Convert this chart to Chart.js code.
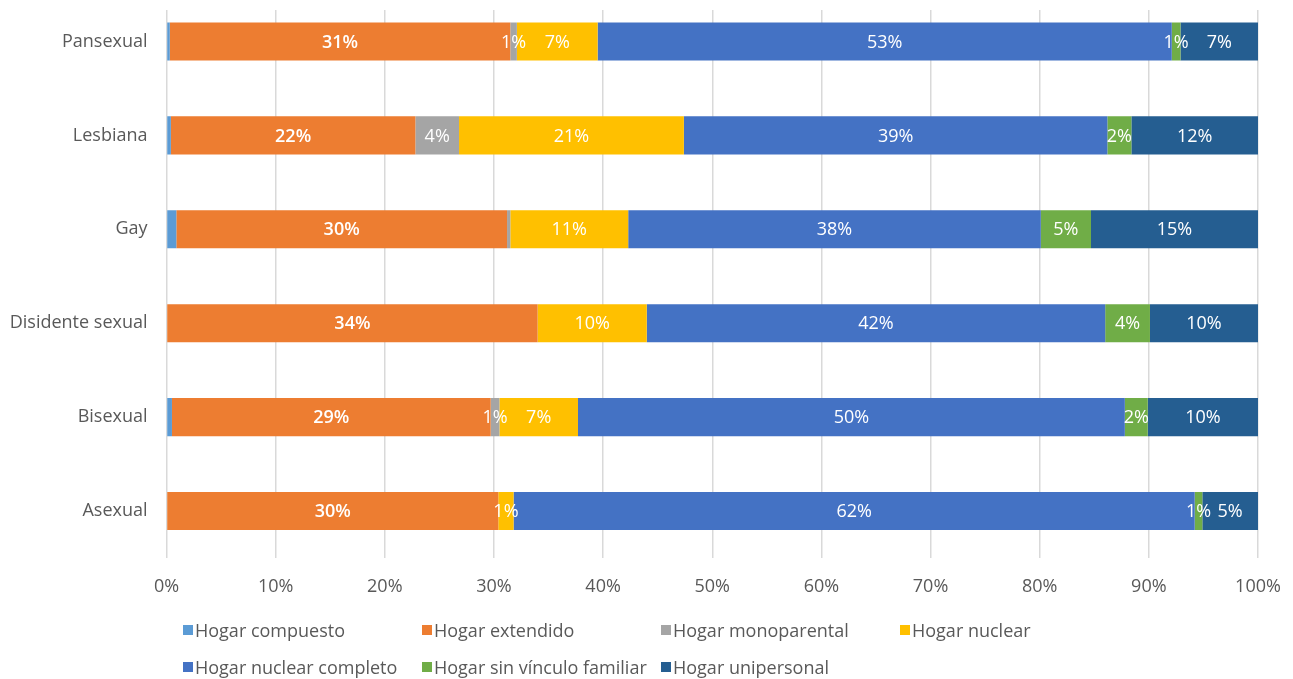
<!DOCTYPE html>
<html>
<head>
<meta charset="utf-8">
<script src="https://cdn.jsdelivr.net/npm/chart.js@4.4.1/dist/chart.umd.min.js"></script>
<style>
  html, body { margin: 0; padding: 0; background: #fff; }
  #wrap { position: relative; width: 1293px; height: 679px; overflow: hidden; }
  #c { position: absolute; left: 0; top: -40px; }
  #legend {
    position: absolute; left: 183px; top: 619px;
    display: grid; grid-template-columns: 239px 239px 239px 239px; grid-auto-rows: 37px;
    font-family: "Open Sans", sans-serif; font-size: 18px; color: #595959;
  }
  .li { display: flex; align-items: center; height: 22px; white-space: nowrap; }
  .sw { width: 10px; height: 10px; margin-right: 2px; flex: none; }
</style>
</head>
<body>
<div id="wrap">
  <canvas id="c" width="1293" height="719"></canvas>
  <div id="legend"></div>
</div>
<script>
const categories = ["Pansexual", "Lesbiana", "Gay", "Disidente sexual", "Bisexual", "Asexual"];
const seriesNames = ["Hogar compuesto", "Hogar extendido", "Hogar monoparental", "Hogar nuclear",
                     "Hogar nuclear completo", "Hogar sin vínculo familiar", "Hogar unipersonal"];
const seriesColors = ["#5B9BD5", "#ED7D31", "#A5A5A5", "#FFC000", "#4472C4", "#70AD47", "#255E91"];

const hogarCompuesto       = [0.3, 0.4, 0.9, 0.0, 0.5, 0.0];
const hogarExtendido       = [31.2, 22.4, 30.3, 34.0, 29.2, 30.4];
const hogarMonoparental    = [0.6, 4.0, 0.3, 0.0, 0.8, 0.0];
const hogarNuclear         = [7.4, 20.6, 10.8, 10.0, 7.2, 1.4];
const hogarNuclearCompleto = [52.6, 38.8, 37.8, 42.0, 50.1, 62.4];
const hogarSinVinculo      = [0.8, 2.2, 4.6, 4.1, 2.1, 0.7];
const hogarUnipersonal     = [7.1, 11.6, 15.3, 9.9, 10.1, 5.1];

const xTicks = [0, 10, 20, 30, 40, 50, 60, 70, 80, 90, 100];

const seriesValues = [hogarCompuesto, hogarExtendido, hogarMonoparental, hogarNuclear,
                      hogarNuclearCompleto, hogarSinVinculo, hogarUnipersonal];

const FONT = '"Open Sans", sans-serif';
const TXT = '#595959';
const CANVAS_SHIFT = 40;           // canvas is shifted up by this many px
const WANT_TOP = -5.5 + CANVAS_SHIFT;
const WANT_RIGHT = 1258;

const datasets = seriesNames.map((name, i) => ({
  label: name,
  data: seriesValues[i],
  backgroundColor: seriesColors[i],
  borderWidth: 0,
  barPercentage: 0.405,
  categoryPercentage: 1.0
}));

const labelPlugin = {
  id: 'segLabels',
  afterDatasetsDraw(chart) {
    const ctx = chart.ctx;
    ctx.save();
    ctx.textAlign = 'center';
    ctx.textBaseline = 'middle';
    ctx.fillStyle = '#ffffff';
    chart.data.datasets.forEach((ds, di) => {
      if (di === 0) return; // compuesto series has no labels
      const meta = chart.getDatasetMeta(di);
      meta.data.forEach((el, j) => {
        const v = ds.data[j];
        if (v < 0.5) return;
        ctx.font = (di === 1 ? '600 ' : '400 ') + '18px ' + FONT;
        ctx.fillText(Math.round(v) + '%', (el.x + el.base) / 2, el.y + 1);
      });
    });
    ctx.restore();
  }
};

const gridTrim = {
  id: 'gridTrim',
  beforeDatasetsDraw(chart) {
    const ctx = chart.ctx;
    ctx.save();
    ctx.fillStyle = '#ffffff';
    ctx.fillRect(0, 0, chart.width, CANVAS_SHIFT + 10);
    ctx.restore();
  }
};

const chart = new Chart(document.getElementById('c'), {
  type: 'bar',
  data: { labels: categories, datasets },
  options: {
    indexAxis: 'y',
    responsive: false,
    animation: false,
    layout: { padding: { top: WANT_TOP, right: 35, bottom: 0, left: 0 } },
    plugins: { legend: { display: false }, tooltip: { enabled: false } },
    scales: {
      x: {
        stacked: true,
        min: 0, max: 100,
        afterBuildTicks(scale) { scale.ticks = xTicks.map(v => ({ value: v })); },
        afterFit(scale) { scale.height = 121; },
        grid: { color: '#D9D9D9', lineWidth: 1.5, drawTicks: true, tickLength: 16, tickColor: 'rgba(0,0,0,0)' },
        border: { display: false },
        ticks: {
          padding: 2,
          color: TXT,
          font: { family: FONT, size: 18 },
          callback: v => v + '%'
        }
      },
      y: {
        stacked: true,
        afterFit(scale) { scale.width = 166.5; },
        grid: { display: false, drawTicks: false },
        border: { display: false },
        ticks: {
          padding: 19,
          color: TXT,
          font: { family: FONT, size: 18 }
        }
      }
    }
  },
  plugins: [gridTrim, labelPlugin]
});

// correct the layout so the plot area lands where the reference has it
for (let k = 0; k < 3; k++) {
  const a = chart.chartArea;
  const p = chart.options.layout.padding;
  const dTop = WANT_TOP - a.top;
  const dRight = a.right - WANT_RIGHT;
  if (Math.abs(dTop) < 0.2 && Math.abs(dRight) < 0.2) break;
  chart.options.layout.padding = { top: p.top + dTop, right: p.right + dRight, bottom: 0, left: 0 };
  chart.update();
}

const legend = document.getElementById('legend');
seriesNames.forEach((name, i) => {
  const item = document.createElement('div');
  item.className = 'li';
  const sw = document.createElement('span');
  sw.className = 'sw';
  sw.style.background = seriesColors[i];
  const t = document.createElement('span');
  t.textContent = name;
  item.appendChild(sw);
  item.appendChild(t);
  legend.appendChild(item);
});
</script>
</body>
</html>
